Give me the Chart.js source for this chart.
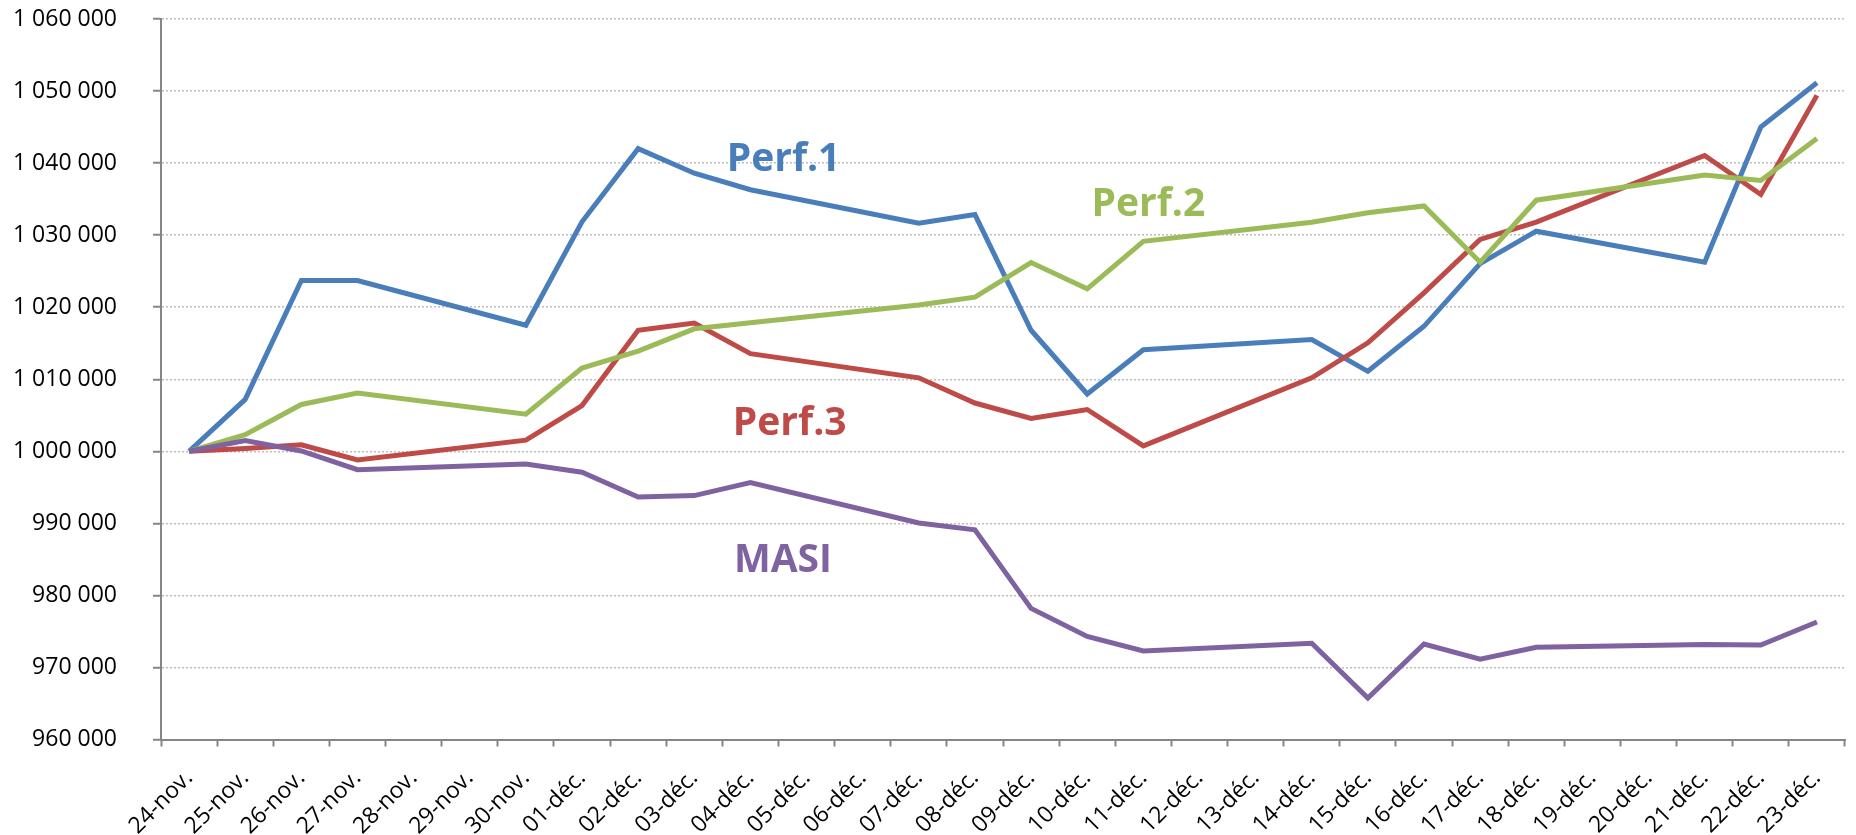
<!DOCTYPE html>
<html>
<head>
<meta charset="utf-8">
<script src="https://cdn.jsdelivr.net/npm/chart.js@4.4.0/dist/chart.umd.min.js"></script>
<style>
  html, body { margin: 0; padding: 0; background: #fff; }
</style>
</head>
<body>
<canvas id="perfChart" width="1856" height="835"></canvas>
<script>
// chart data
const days = [
    '24-nov.', '25-nov.', '26-nov.', '27-nov.', '28-nov.', '29-nov.', '30-nov.',
    '01-déc.', '02-déc.', '03-déc.', '04-déc.', '05-déc.', '06-déc.', '07-déc.',
    '08-déc.', '09-déc.', '10-déc.', '11-déc.', '12-déc.', '13-déc.', '14-déc.',
    '15-déc.', '16-déc.', '17-déc.', '18-déc.', '19-déc.', '20-déc.', '21-déc.',
    '22-déc.', '23-déc.'
];

// null = no quote that day (week-end)
const perf1 = [1000000, 1007200, 1023700, 1023700, null, null, 1017500,
    1031850, 1042000, 1038600, 1036300, null, null, 1031650,
    1032850, 1016800, 1007950, 1014100, null, null, 1015500,
    1011100, 1017350, 1026050, 1030550, null, null, 1026250,
    1045000, 1051150];

const perf2 = [1000000, 1002300, 1006500, 1008100, null, null, 1005150,
    1011550, 1013900, 1017000, 1017850, null, null, 1020300,
    1021400, 1026200, 1022550, 1029150, null, null, 1031800,
    1033100, 1034050, 1026250, 1034850, null, null, 1038350,
    1037600, 1043400];

const perf3 = [1000000, 1000400, 1000900, 998800, null, null, 1001550,
    1006350, 1016800, 1017800, 1013550, null, null, 1010200,
    1006700, 1004550, 1005800, 1000750, null, null, 1010200,
    1015050, 1022000, 1029400, 1031800, null, null, 1041050,
    1035650, 1049400];

const masi = [1000000, 1001500, 1000050, 997450, null, null, 998250,
    997100, 993650, 993850, 995650, null, null, 990050,
    989100, 978200, 974300, 972300, null, null, 973350,
    965750, 973250, 971150, 972800, null, null, 973200,
    973100, 976300];

const yTicks = [960000, 970000, 980000, 990000, 1000000, 1010000,
    1020000, 1030000, 1040000, 1050000, 1060000];

// series names written on the plot: [text, colour, category index, value]
const seriesLabels = [
    ['Perf.1', '#4A7EBB', 10.59, 1038850],
    ['Perf.2', '#9BBB59', 17.09, 1032700],
    ['Perf.3', '#BE4B48', 10.70, 1002300],
    ['MASI', '#7F63A1', 10.58, 983250]
];

function fmt(v) {
    return String(v).replace(/\B(?=(\d{3})+(?!\d))/g, ' ');
}

const seriesLabelPlugin = {
    id: 'seriesLabels',
    afterDatasetsDraw(chart) {
        const ctx = chart.ctx;
        const x = chart.scales.x;
        const y = chart.scales.y;
        ctx.save();
        ctx.font = 'bold 39px "Open Sans"';
        ctx.textAlign = 'center';
        ctx.textBaseline = 'alphabetic';
        seriesLabels.forEach(([text, color, idx, val]) => {
            ctx.fillStyle = color;
            ctx.fillText(text, x.getPixelForValue(idx), y.getPixelForValue(val));
        });
        ctx.restore();
    }
};

function line(label, data, color, order) {
    return {
        label: label,
        data: data,
        borderColor: color,
        backgroundColor: color,
        borderWidth: 5,
        pointRadius: 0,
        tension: 0,
        spanGaps: true,
        order: order
    };
}

const ctx = document.getElementById('perfChart').getContext('2d');
new Chart(ctx, {
    type: 'line',
    data: {
        labels: days,
        datasets: [
            line('Perf.1', perf1, '#4A7EBB', 3),
            line('Perf.2', perf2, '#9BBB59', 1),
            line('Perf.3', perf3, '#BE4B48', 2),
            line('MASI', masi, '#7F63A1', 0)
        ]
    },
    options: {
        responsive: false,
        animation: false,
        devicePixelRatio: 1,
        layout: { padding: { top: 19, right: 11, left: 0, bottom: 0 } },
        plugins: {
            legend: { display: false },
            tooltip: { enabled: false }
        },
        scales: {
            x: {
                type: 'category',
                offset: true,
                grid: {
                    offset: true,
                    drawOnChartArea: false,
                    drawTicks: true,
                    tickLength: 7,
                    tickColor: '#868686',
                    tickWidth: 2
                },
                border: { color: '#868686', width: 2 },
                ticks: {
                    autoSkip: false,
                    minRotation: 45,
                    maxRotation: 45,
                    padding: 18,
                    color: '#000',
                    font: { family: '"Open Sans"', size: 23 }
                },
                afterFit(scale) {
                    scale.height = 95.5;
                    scale.paddingLeft = 0;
                    scale.paddingRight = 0;
                }
            },
            y: {
                min: 960000,
                max: 1060000,
                afterBuildTicks(scale) {
                    scale.ticks = yTicks.map(v => ({ value: v }));
                },
                grid: {
                    color: '#BDBDBD',
                    lineWidth: 1.5,
                    tickLength: 8,
                    tickColor: '#868686',
                    tickWidth: 2
                },
                border: { color: '#868686', width: 2, dash: [2, 2] },
                ticks: {
                    padding: 36,
                    color: '#000',
                    font: { family: '"Open Sans"', size: 23 },
                    callback: v => fmt(v)
                },
                afterFit(scale) {
                    scale.width = 161;
                    scale.paddingTop = 0;
                    scale.paddingBottom = 0;
                }
            }
        }
    },
    plugins: [seriesLabelPlugin]
});
</script>
</body>
</html>
